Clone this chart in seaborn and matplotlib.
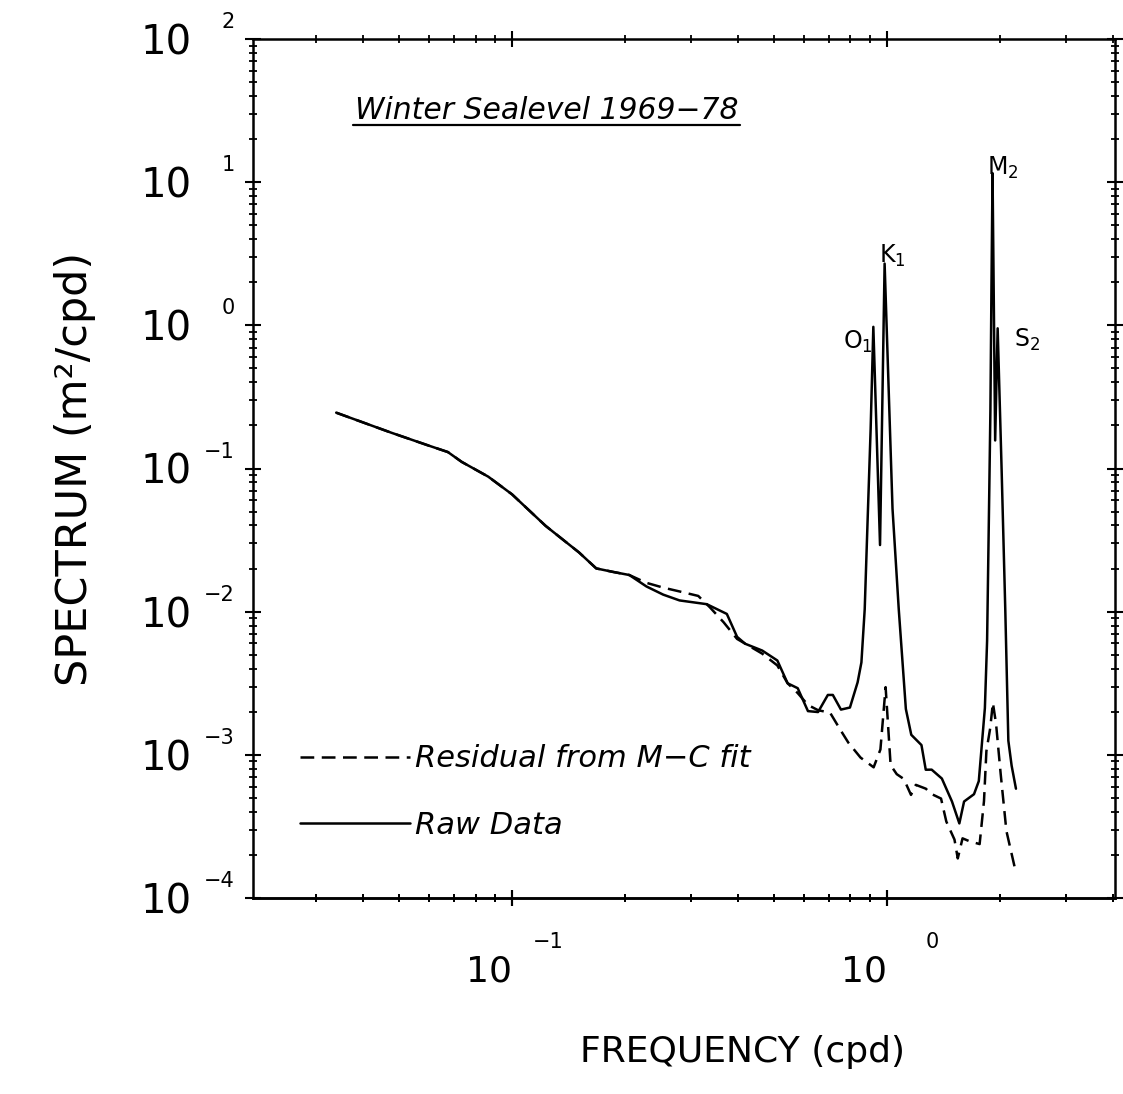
import numpy as np
import pandas as pd
import matplotlib
matplotlib.use("Agg")
import matplotlib.pyplot as plt
from matplotlib.ticker import LogLocator, NullFormatter
from matplotlib.lines import Line2D
from matplotlib.transforms import IdentityTransform
import seaborn as sns

# ---------------- data ----------------
RAW_FREQ = [0.0340, 0.0477, 0.0597, 0.0675, 0.0735, 0.0865, 0.1001, 0.1231, 0.1511, 0.1679,
            0.1860, 0.2057, 0.2285, 0.2533, 0.2801, 0.3309, 0.3744, 0.3987, 0.4189, 0.4653,
            0.5105, 0.5438, 0.5786, 0.6161, 0.6555, 0.6962, 0.7178, 0.7545, 0.7973, 0.8358,
            0.8555, 0.8730, 0.8889, 0.9054, 0.9205, 0.9591, 0.9865, 1.0356, 1.0758, 1.124,
            1.162, 1.237, 1.270, 1.317, 1.402, 1.492, 1.561, 1.607, 1.708, 1.759,
            1.826, 1.851, 1.876, 1.889, 1.901, 1.914, 1.945, 1.975, 2.024, 2.070,
            2.109, 2.152, 2.210]
RAW_SPEC = [0.2455, 0.1778, 0.1452, 0.1303, 0.1112, 0.0877, 0.0660, 0.0397, 0.0259, 0.02005,
            0.01896, 0.01803, 0.0150, 0.01315, 0.01198, 0.01128, 0.00964, 0.00667, 0.00597, 0.00535,
            0.00456, 0.00316, 0.00292, 0.00202, 0.00199, 0.00262, 0.00262, 0.00207, 0.00214, 0.00321,
            0.00442, 0.0104, 0.0443, 0.189, 0.976, 0.0292, 2.70, 0.0523, 0.01047, 0.00209,
            0.00138, 0.00117, 0.000787, 0.000788, 0.000683, 0.000472, 0.000332, 0.000472, 0.000531, 0.000655,
            0.00212, 0.00625, 0.070, 0.254, 1.757, 11.56, 0.157, 0.953, 0.0968, 0.01019,
            0.001256, 0.00084, 0.00058]

RES_FREQ = [0.0340, 0.0477, 0.0597, 0.0675, 0.0735, 0.0865, 0.1001, 0.1231, 0.1511, 0.1679,
            0.1860, 0.2057, 0.2285, 0.2533, 0.2801, 0.3141, 0.3371, 0.3671, 0.3987, 0.4653,
            0.5105, 0.5438, 0.5786, 0.6161, 0.6555, 0.7057, 0.7512, 0.7895, 0.8509, 0.9222,
            0.9614, 0.9926, 1.0236, 1.0627, 1.110, 1.160, 1.195, 1.271, 1.311, 1.395,
            1.441, 1.515, 1.546, 1.592, 1.662, 1.768, 1.816, 1.843, 1.887, 1.918,
            1.956, 2.012, 2.084, 2.194]
RES_SPEC = [0.2455, 0.1778, 0.1452, 0.1303, 0.1112, 0.0877, 0.0660, 0.0397, 0.0259, 0.02005,
            0.01896, 0.01803, 0.0159, 0.01472, 0.01384, 0.01288, 0.01075, 0.00843, 0.00645, 0.00509,
            0.00421, 0.00316, 0.0027, 0.00223, 0.00205, 0.00197, 0.0015, 0.001217, 0.000957, 0.000818,
            0.00109, 0.00297, 0.000847, 0.000733, 0.000678, 0.000525, 0.000617, 0.00058, 0.000535, 0.000495,
            0.000342, 0.000256, 0.000189, 0.000261, 0.000249, 0.000238, 0.000475, 0.00106, 0.00154, 0.00231,
            0.00164, 0.000736, 0.000294, 0.000163]

X_TICKS = [0.1, 1.0]
X_EXP = ["\u22121", "0"]
Y_TICKS = [1e-4, 1e-3, 1e-2, 1e-1, 1e0, 1e1, 1e2]
Y_EXP = ["\u22124", "\u22123", "\u22122", "\u22121", "0", "1", "2"]

PEAK_NAMES = ["O$_1$", "K$_1$", "M$_2$", "S$_2$"]
PEAK_FREQ = [0.9205, 0.9865, 1.914, 1.975]

TITLE = "Winter Sealevel 1969\u221278"
RES_LABEL = "Residual from M\u2212C fit"
RAW_LABEL = "Raw Data"
XLABEL = "FREQUENCY (cpd)"
YLABEL = "SPECTRUM (m\u00b2/cpd)"

# ---------------- style ----------------
sns.set_theme(style="white")
plt.rcParams['font.family'] = ['DejaVu Sans']
plt.rcParams['mathtext.fontset'] = 'dejavusans'
for key in ['axes.edgecolor', 'text.color', 'axes.labelcolor', 'xtick.color', 'ytick.color']:
    plt.rcParams[key] = 'black'
for key in ['xtick.bottom', 'xtick.top', 'ytick.left', 'ytick.right']:
    plt.rcParams[key] = True

fig = plt.figure(figsize=(11.23, 10.94), dpi=100)
ax = fig.add_axes([253 / 1123, 1 - 898 / 1094, 862 / 1123, 859 / 1094])

res_df = pd.DataFrame({"freq": RES_FREQ, "spec": RES_SPEC})
raw_df = pd.DataFrame({"freq": RAW_FREQ, "spec": RAW_SPEC})

sns.lineplot(data=res_df, x="freq", y="spec", ax=ax, color="black", lw=1.8,
             linestyle=(0, (5.5, 3)), estimator=None, sort=False, label=RES_LABEL)
sns.lineplot(data=raw_df, x="freq", y="spec", ax=ax, color="black", lw=1.8,
             estimator=None, sort=False, label=RAW_LABEL)

ax.set_xscale("log")
ax.set_yscale("log")
ax.set_xlim(0.0204, 4.06)
ax.set_ylim(1e-4, 1e2)

for sp in ax.spines.values():
    sp.set_linewidth(1.8)
    sp.set_color("black")

ax.set_xticks(X_TICKS, labels=["10"] * len(X_TICKS), ha='right')
ax.set_yticks(Y_TICKS, labels=["10"] * len(Y_TICKS))
ax.xaxis.set_minor_locator(LogLocator(base=10, subs=np.arange(2, 10), numticks=30))
ax.yaxis.set_minor_locator(LogLocator(base=10, subs=np.arange(2, 10), numticks=30))
ax.xaxis.set_minor_formatter(NullFormatter())
ax.yaxis.set_minor_formatter(NullFormatter())

ax.xaxis.set_tick_params(which='both', bottom=True, top=True, direction='inout', color='black')
ax.yaxis.set_tick_params(which='both', left=True, right=True, direction='inout', color='black')
ax.tick_params(which='major', length=11, width=1.5)
ax.tick_params(which='minor', length=6, width=1.3)
ax.tick_params(axis='x', which='major', labelsize=26, pad=35, labelcolor='black')
ax.tick_params(axis='y', which='major', labelsize=29, pad=39, labelcolor='black')

# extra bottom tick marks (no labels) via a secondary axis on the same scale
sec = ax.secondary_xaxis('bottom')
sec.set_xticks(X_TICKS)
sec.xaxis.set_major_formatter(NullFormatter())
sec.xaxis.set_minor_locator(LogLocator(base=10, subs=np.arange(2, 10), numticks=30))
sec.xaxis.set_minor_formatter(NullFormatter())
sec.tick_params(which='both', direction='inout', color='black', bottom=True)
sec.tick_params(which='major', length=11, width=1.5)
sec.tick_params(which='minor', length=6, width=1.3)
sec.spines['bottom'].set_linewidth(1.8)
sec.spines['bottom'].set_color('black')

for t, e in zip(X_TICKS, X_EXP):
    ax.annotate(e, xy=(t, 0), xycoords=('data', 'axes fraction'), xytext=(52, -44),
                textcoords='offset pixels', ha='right', va='center', fontsize=15,
                annotation_clip=False)
for t, e in zip(Y_TICKS, Y_EXP):
    ax.annotate(e, xy=(0, t), xycoords=('axes fraction', 'data'), xytext=(-18, 17),
                textcoords='offset pixels', ha='right', va='center', fontsize=15,
                annotation_clip=False)

ax.set_xlabel(XLABEL, fontsize=26)
ax.xaxis.set_label_coords(0.568, -0.160)
ax.set_ylabel(YLABEL, fontsize=31)
ax.yaxis.set_label_coords(-0.182, 0.5)

# peak labels
offsets = [(-15, -15), (8, 8), (10, 5), (29, -12)]
rf = np.array(RAW_FREQ)
for name, f, off in zip(PEAK_NAMES, PEAK_FREQ, offsets):
    idx = int(np.argmin(np.abs(rf - f)))
    ax.annotate(name, xy=(RAW_FREQ[idx], RAW_SPEC[idx]), xytext=off,
                textcoords='offset pixels', ha='center', va='center', fontsize=17,
                annotation_clip=False)

# title (italic, underlined)
title = ax.text(0.118, 0.907, TITLE, transform=ax.transAxes, fontsize=21.5,
                style='italic', ha='left', va='baseline')

# legend
ax.legend(loc='upper left', bbox_to_anchor=(0.0545, 0.179), frameon=False,
          handlelength=3.6, handletextpad=0.15, labelspacing=1.22, borderpad=0,
          borderaxespad=0, prop={'style': 'italic', 'size': 22})

renderer = fig.canvas.get_renderer()
bb = title.get_window_extent(renderer=renderer)
disp_base = ax.transAxes.transform((0.118, 0.907))[1]
fig.add_artist(Line2D([bb.x0 - 2, bb.x1 + 2], [disp_base - 6, disp_base - 6],
                      transform=IdentityTransform(), color='black', lw=1.6))

fig.savefig("out.png", dpi=100, facecolor='white')
